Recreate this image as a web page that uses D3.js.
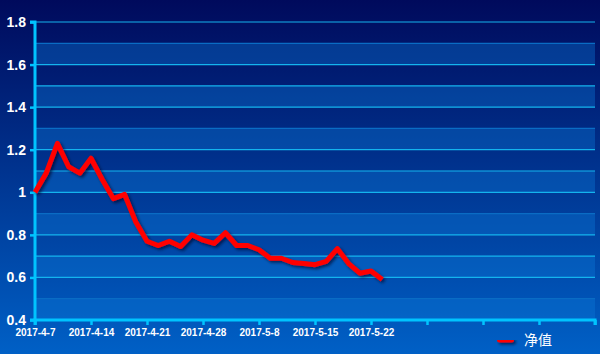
<!DOCTYPE html>
<html>
<head>
<meta charset="utf-8">
<script src="https://cdn.jsdelivr.net/npm/d3@7"></script>
<style>
  html, body { margin: 0; padding: 0; }
  svg { display: block; font-family: Arial, "Liberation Sans", sans-serif; }
</style>
</head>
<body>
<div id="chart-area"></div>
<script>
// trading days, label every 5th one
const dates = ["2017-4-7","2017-4-10","2017-4-11","2017-4-12","2017-4-13","2017-4-14",
  "2017-4-17","2017-4-18","2017-4-19","2017-4-20","2017-4-21",
  "2017-4-24","2017-4-25","2017-4-26","2017-4-27","2017-4-28",
  "2017-5-2","2017-5-3","2017-5-4","2017-5-5","2017-5-8",
  "2017-5-9","2017-5-10","2017-5-11","2017-5-12","2017-5-15",
  "2017-5-16","2017-5-17","2017-5-18","2017-5-19","2017-5-22","2017-5-23"];
const values = [1.00,1.09,1.23,1.12,1.09,1.16,1.06,0.97,0.99,0.86,0.77,
  0.75,0.77,0.745,0.80,0.775,0.76,0.81,0.75,0.75,0.73,
  0.69,0.69,0.67,0.665,0.66,0.675,0.735,0.665,0.62,0.63,0.59];
const seriesName = "净值";
const slots = 50;          // x axis runs to 50 trading-day slots
const yTicks = [0.4, 0.6, 0.8, 1, 1.2, 1.4, 1.6, 1.8];

const width = 600, height = 354;
const margin = {top: 22, right: 5, bottom: 34, left: 35};

const svg = d3.select("#chart-area").append("svg")
  .attr("width", width)
  .attr("height", height);

const defs = svg.append("defs");
const grad = defs.append("linearGradient")
  .attr("id", "bg").attr("x1", 0).attr("y1", 0).attr("x2", 0).attr("y2", 1);
grad.append("stop").attr("offset", "0%").attr("stop-color", "#000a5c");
grad.append("stop").attr("offset", "100%").attr("stop-color", "#0060c6");

const shadow = defs.append("filter").attr("id", "shadow")
  .attr("filterUnits", "userSpaceOnUse")
  .attr("x", 0).attr("y", 0).attr("width", width).attr("height", height);
shadow.append("feDropShadow")
  .attr("dx", 2).attr("dy", 2).attr("stdDeviation", 1.5)
  .attr("flood-color", "#000020").attr("flood-opacity", 0.6);

svg.append("rect").attr("width", width).attr("height", height).attr("fill", "url(#bg)");

const x = d3.scaleLinear()
  .domain([0, slots])
  .range([margin.left, width - margin.right]);

const y = d3.scaleLinear()
  .domain([0.4, 1.8])
  .range([height - margin.bottom, margin.top]);

// alternating bands every 0.1
const steps = d3.range(0, 14);
svg.selectAll(".band")
  .data(steps.filter(i => i % 2 === 0))
  .enter().append("rect")
  .attr("class", "band")
  .attr("x", x(0))
  .attr("width", x(slots) - x(0))
  .attr("y", i => y(0.5 + i / 10))
  .attr("height", i => y(0.4 + i / 10) - y(0.5 + i / 10))
  .attr("fill", "#0a7ad8")
  .attr("opacity", 0.38);

// grid lines
svg.selectAll(".grid")
  .data(d3.range(0, 15))
  .enter().append("line")
  .attr("class", "grid")
  .attr("x1", x(0))
  .attr("x2", x(slots))
  .attr("y1", i => y(0.4 + i / 10))
  .attr("y2", i => y(0.4 + i / 10))
  .attr("stroke", i => (i % 4 === 1) ? "#0a6cc4" : "#14b4ee")
  .attr("stroke-width", 1.2);

// axes
const yAxis = svg.append("g")
  .attr("transform", `translate(${margin.left},0)`)
  .call(d3.axisLeft(y).tickValues(yTicks).tickSize(5).tickPadding(4)
    .tickFormat(d => d3.format("")(+d.toFixed(1))));

const xAxis = svg.append("g")
  .attr("transform", `translate(0,${height - margin.bottom})`)
  .call(d3.axisBottom(x).tickValues(d3.range(0, slots + 1, 5)).tickSize(5).tickPadding(4)
    .tickFormat(d => dates[d] || ""));

[yAxis, xAxis].forEach(g => {
  g.selectAll("path, line").attr("stroke", "#00c4ff");
  g.select(".domain").attr("stroke-width", 3);
  g.selectAll(".tick line").attr("stroke-width", 2.5);
  g.selectAll("text").attr("fill", "#ffffff").attr("font-weight", "bold")
    .attr("font-family", "Arial, 'Liberation Sans', sans-serif");
});
yAxis.select(".domain").attr("d", `M-5,${y(1.8)}H0V${y(0.4)}H-5`);
xAxis.select(".domain").attr("d", `M${x(0)},5V0H${x(slots)}V5`);
yAxis.selectAll("text").attr("font-size", 14);
xAxis.selectAll("text").attr("font-size", 10);

// series line
const line = d3.line()
  .x((d, i) => x(i))
  .y(d => y(d));

svg.append("path")
  .datum(values)
  .attr("fill", "none")
  .attr("stroke", "#ff0000")
  .attr("stroke-width", 5)
  .attr("stroke-linejoin", "round")
  .attr("filter", "url(#shadow)")
  .attr("d", line);

// legend
const legend = svg.append("g").attr("transform", "translate(497,340)");
legend.append("rect")
  .attr("x", 0).attr("y", -2.5)
  .attr("width", 17).attr("height", 5).attr("rx", 2.5)
  .attr("fill", "#ff0000")
  .attr("filter", "url(#shadow)");
legend.append("text")
  .attr("x", 27).attr("y", 5)
  .attr("fill", "#ffffff")
  .attr("font-size", 14)
  .attr("font-family", "'Noto Sans CJK SC', sans-serif")
  .text(seriesName);
</script>
</body>
</html>
